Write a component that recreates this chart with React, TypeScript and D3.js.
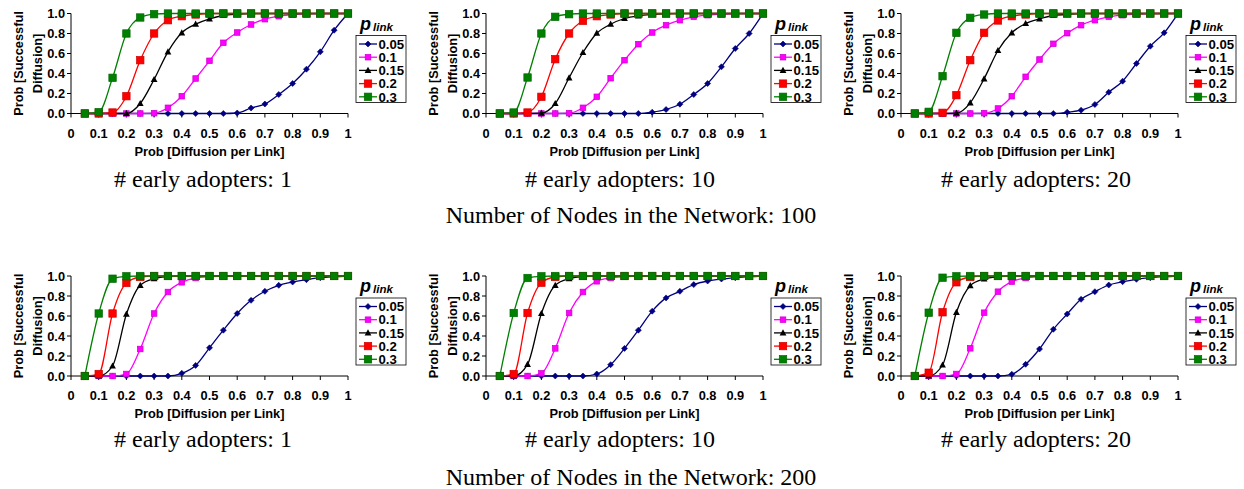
import * as d3 from 'd3';

// x values shared by every curve: diffusion probability per link
const X_VALUES = [
  0.05, 0.1, 0.15, 0.2, 0.25, 0.3, 0.35, 0.4, 0.45, 0.5,
  0.55, 0.6, 0.65, 0.7, 0.75, 0.8, 0.85, 0.9, 0.95, 1.0,
];

const P_LINK = ['0.05', '0.1', '0.15', '0.2', '0.3'];
const COLORS = ['#000080', '#ff00ff', '#000000', '#ff0000', '#008000'];
const MARKERS = ['diamond', 'smallSquare', 'triangle', 'square', 'square'];

const X_TICKS = [0, 0.1, 0.2, 0.3, 0.4, 0.5, 0.6, 0.7, 0.8, 0.9, 1];
const X_TICK_LABELS = ['0', '0.1', '0.2', '0.3', '0.4', '0.5', '0.6', '0.7', '0.8', '0.9', '1'];
const Y_TICKS = [0, 0.2, 0.4, 0.6, 0.8, 1.0];
const Y_TICK_LABELS = ['0.0', '0.2', '0.4', '0.6', '0.8', '1.0'];

const EARLY_ADOPTERS = ['1', '10', '20'];
const NODE_COUNTS = ['100', '200'];

// one array per p_link, in P_LINK order
const N100_EA1 = [
  [0, 0, 0, 0, 0, 0, 0, 0, 0, 0, 0, 0.005, 0.055, 0.095, 0.19, 0.3, 0.443, 0.617, 0.833, 1],
  [0, 0, 0, 0, 0, 0.003, 0.057, 0.173, 0.35, 0.527, 0.707, 0.81, 0.89, 0.943, 0.973, 0.99, 0.997, 1, 1, 1],
  [0, 0, 0, 0, 0.1, 0.34, 0.617, 0.807, 0.893, 0.947, 0.98, 0.993, 1, 1, 1, 1, 1, 1, 1, 1],
  [0, 0, 0.01, 0.173, 0.533, 0.8, 0.933, 0.973, 0.99, 1, 1, 1, 1, 1, 1, 1, 1, 1, 1, 1],
  [0, 0.013, 0.357, 0.8, 0.96, 0.993, 1, 1, 1, 1, 1, 1, 1, 1, 1, 1, 1, 1, 1, 1],
];
const N100_EA10 = [
  [0, 0, 0, 0, 0, 0, 0, 0, 0, 0, 0, 0.013, 0.04, 0.093, 0.19, 0.3, 0.467, 0.65, 0.8, 1],
  [0, 0, 0, 0, 0, 0.003, 0.057, 0.167, 0.353, 0.533, 0.693, 0.81, 0.883, 0.933, 0.967, 0.983, 0.993, 0.997, 1, 1],
  [0, 0, 0, 0.003, 0.1, 0.357, 0.61, 0.803, 0.893, 0.95, 0.977, 0.99, 0.997, 1, 1, 1, 1, 1, 1, 1],
  [0, 0, 0.01, 0.167, 0.543, 0.8, 0.927, 0.973, 0.99, 1, 1, 1, 1, 1, 1, 1, 1, 1, 1, 1],
  [0, 0.01, 0.36, 0.8, 0.967, 0.993, 1, 1, 1, 1, 1, 1, 1, 1, 1, 1, 1, 1, 1, 1],
];
const N100_EA20 = [
  [0, 0, 0, 0, 0, 0, 0, 0, 0, 0, 0, 0.013, 0.033, 0.09, 0.213, 0.323, 0.5, 0.673, 0.807, 1],
  [0, 0, 0, 0, 0, 0.003, 0.05, 0.173, 0.367, 0.54, 0.697, 0.803, 0.883, 0.933, 0.967, 0.983, 0.993, 1, 1, 1],
  [0, 0, 0, 0.003, 0.107, 0.347, 0.63, 0.807, 0.9, 0.947, 0.98, 0.99, 1, 1, 1, 1, 1, 1, 1, 1],
  [0, 0, 0.007, 0.183, 0.533, 0.807, 0.93, 0.973, 0.99, 1, 1, 1, 1, 1, 1, 1, 1, 1, 1, 1],
  [0, 0.017, 0.373, 0.807, 0.957, 0.99, 1, 1, 1, 1, 1, 1, 1, 1, 1, 1, 1, 1, 1, 1],
];
const N200_EA1 = [
  [0, 0, 0, 0, 0, 0, 0, 0.027, 0.106, 0.282, 0.458, 0.625, 0.757, 0.847, 0.907, 0.94, 0.963, 0.983, 0.993, 1],
  [0, 0, 0, 0.02, 0.27, 0.625, 0.84, 0.937, 0.98, 0.993, 1, 1, 1, 1, 1, 1, 1, 1, 1, 1],
  [0, 0, 0.1, 0.618, 0.907, 0.973, 0.993, 1, 1, 1, 1, 1, 1, 1, 1, 1, 1, 1, 1, 1],
  [0, 0.02, 0.625, 0.93, 0.99, 1, 1, 1, 1, 1, 1, 1, 1, 1, 1, 1, 1, 1, 1, 1],
  [0, 0.625, 0.973, 0.997, 1, 1, 1, 1, 1, 1, 1, 1, 1, 1, 1, 1, 1, 1, 1, 1],
];
const N200_EA10 = [
  [0, 0, 0, 0, 0, 0, 0, 0.02, 0.113, 0.276, 0.458, 0.648, 0.781, 0.847, 0.914, 0.95, 0.97, 0.983, 0.993, 1],
  [0, 0, 0, 0.027, 0.276, 0.63, 0.84, 0.947, 0.98, 0.993, 1, 1, 1, 1, 1, 1, 1, 1, 1, 1],
  [0, 0, 0.116, 0.625, 0.907, 0.973, 0.993, 1, 1, 1, 1, 1, 1, 1, 1, 1, 1, 1, 1, 1],
  [0, 0.02, 0.63, 0.933, 0.99, 1, 1, 1, 1, 1, 1, 1, 1, 1, 1, 1, 1, 1, 1, 1],
  [0, 0.63, 0.98, 0.997, 1, 1, 1, 1, 1, 1, 1, 1, 1, 1, 1, 1, 1, 1, 1, 1],
];
const N200_EA20 = [
  [0, 0, 0, 0, 0, 0, 0, 0.017, 0.117, 0.27, 0.467, 0.62, 0.767, 0.843, 0.91, 0.943, 0.967, 0.983, 0.993, 1],
  [0, 0, 0, 0.02, 0.277, 0.633, 0.843, 0.943, 0.98, 0.993, 1, 1, 1, 1, 1, 1, 1, 1, 1, 1],
  [0, 0, 0.11, 0.637, 0.903, 0.97, 0.993, 1, 1, 1, 1, 1, 1, 1, 1, 1, 1, 1, 1, 1],
  [0, 0.033, 0.637, 0.937, 0.99, 1, 1, 1, 1, 1, 1, 1, 1, 1, 1, 1, 1, 1, 1, 1],
  [0, 0.633, 0.983, 0.997, 1, 1, 1, 1, 1, 1, 1, 1, 1, 1, 1, 1, 1, 1, 1, 1],
];

const PANELS = [
  [N100_EA1, N100_EA10, N100_EA20],
  [N200_EA1, N200_EA10, N200_EA20],
];

const WIDTH = 1244;
const HEIGHT = 489;
const COL_OFFSETS = [71, 486, 901];
const ROW_TOPS = [13.5, 276];
const PLOT_W = 277;
const PLOT_H = 100;
const CAPTION_CENTERS = [203, 620, 1036];
const CAPTION_Y = [187, 447];
const ROW_TITLE_Y = [223, 485];

const SANS = 'Liberation Sans, Arial, sans-serif';
const SERIF = 'Liberation Serif, Times New Roman, serif';

function Marker({ kind, x, y, color }: { kind: string; x: number; y: number; color: string }) {
  if (kind === 'diamond') {
    return <path d={`M${x},${y - 3}L${x + 3},${y}L${x},${y + 3}L${x - 3},${y}Z`} fill={color} stroke={color} strokeWidth={0.6} />;
  }
  if (kind === 'triangle') {
    return <path d={`M${x},${y - 3.6}L${x + 3.4},${y + 2.6}L${x - 3.4},${y + 2.6}Z`} fill={color} />;
  }
  const s = kind === 'smallSquare' ? 5.6 : 7.4;
  return (
    <rect
      x={x - s / 2}
      y={y - s / 2}
      width={s}
      height={s}
      fill={color}
      stroke={d3.color(color)!.darker(0.6).toString()}
      strokeWidth={0.7}
    />
  );
}

function Panel({ left, top, series }: { left: number; top: number; series: number[][] }) {
  const x = d3.scaleLinear().domain([0, 1]).range([left, left + PLOT_W]);
  const y = d3.scaleLinear().domain([0, 1]).range([top + PLOT_H, top]);
  const line = d3
    .line<number>()
    .x((_, i) => x(X_VALUES[i]))
    .y((d) => y(d))
    .curve(d3.curveMonotoneX);
  const bottom = top + PLOT_H;
  const midY = top + PLOT_H / 2;

  const legX = left + 285;
  const legY = top + 22;

  return (
    <g>
      {/* y axis */}
      <line x1={left} x2={left} y1={top} y2={bottom} stroke="#000" strokeWidth={1} />
      {Y_TICKS.map((t, i) => (
        <g key={`y${i}`}>
          <line x1={left - 4} x2={left} y1={y(t)} y2={y(t)} stroke="#000" />
          <text x={left - 6} y={y(t)} dy="0.36em" textAnchor="end" fontFamily={SANS} fontWeight="bold" fontSize={12.8}>
            {Y_TICK_LABELS[i]}
          </text>
        </g>
      ))}
      {/* x axis */}
      <line x1={left} x2={left + PLOT_W} y1={bottom} y2={bottom} stroke="#000" strokeWidth={1} />
      {X_TICKS.map((t, i) => (
        <g key={`x${i}`}>
          <line x1={x(t)} x2={x(t)} y1={bottom} y2={bottom + 4} stroke="#000" />
          <text x={x(t)} y={bottom + 24} textAnchor="middle" fontFamily={SANS} fontWeight="bold" fontSize={12.8}>
            {X_TICK_LABELS[i]}
          </text>
        </g>
      ))}
      <text x={left + PLOT_W / 2} y={bottom + 42} textAnchor="middle" fontFamily={SANS} fontWeight="bold" fontSize={12.8}>
        Prob [Diffusion per Link]
      </text>
      <g fontFamily={SANS} fontWeight="bold" fontSize={12.8} textAnchor="middle">
        <text transform={`translate(${left - 48},${midY}) rotate(-90)`}>Prob [Successful</text>
        <text transform={`translate(${left - 29},${midY}) rotate(-90)`}>Diffusion]</text>
      </g>

      {/* curves */}
      {series.map((vals, si) => (
        <g key={`s${si}`}>
          <path d={line(vals) ?? ''} fill="none" stroke={COLORS[si]} strokeWidth={1.3} />
          {vals.map((v, i) => (
            <Marker key={i} kind={MARKERS[si]} x={x(X_VALUES[i])} y={y(v)} color={COLORS[si]} />
          ))}
        </g>
      ))}

      {/* legend */}
      <text x={legX + 4} y={top + 16} fontFamily={SANS} fontWeight="bold" fontStyle="italic" fontSize={18}>
        p
      </text>
      <text x={legX + 17} y={top + 17} fontFamily={SANS} fontWeight="bold" fontStyle="italic" fontSize={11.5}>
        link
      </text>
      <rect x={legX} y={legY} width={50} height={67} fill="#fff" stroke="#000" strokeWidth={0.8} />
      {P_LINK.map((p, i) => {
        const ly = legY + 8.5 + i * 13.2;
        return (
          <g key={`l${i}`}>
            <line x1={legX + 3} x2={legX + 21} y1={ly} y2={ly} stroke={COLORS[i]} strokeWidth={1.3} />
            <Marker kind={MARKERS[i]} x={legX + 12} y={ly} color={COLORS[i]} />
            <text x={legX + 22.5} y={ly} dy="0.36em" fontFamily={SANS} fontWeight="bold" fontSize={13.2}>
              {p}
            </text>
          </g>
        );
      })}
    </g>
  );
}

export default function App() {
  return (
    <svg
      width={WIDTH}
      height={HEIGHT}
      viewBox={`0 0 ${WIDTH} ${HEIGHT}`}
      style={{ position: 'absolute', left: 0, top: 0, background: '#fff' }}
    >
      <rect width={WIDTH} height={HEIGHT} fill="#fff" />
      {PANELS.map((row, ri) => (
        <g key={`r${ri}`}>
          {row.map((series, ci) => (
            <g key={`c${ci}`}>
              <Panel left={COL_OFFSETS[ci]} top={ROW_TOPS[ri]} series={series} />
              <text x={CAPTION_CENTERS[ci]} y={CAPTION_Y[ri]} textAnchor="middle" fontFamily={SERIF} fontSize={24}>
                # early adopters: {EARLY_ADOPTERS[ci]}
              </text>
            </g>
          ))}
          <text x={631} y={ROW_TITLE_Y[ri]} textAnchor="middle" fontFamily={SERIF} fontSize={24}>
            Number of Nodes in the Network: {NODE_COUNTS[ri]}
          </text>
        </g>
      ))}
    </svg>
  );
}
